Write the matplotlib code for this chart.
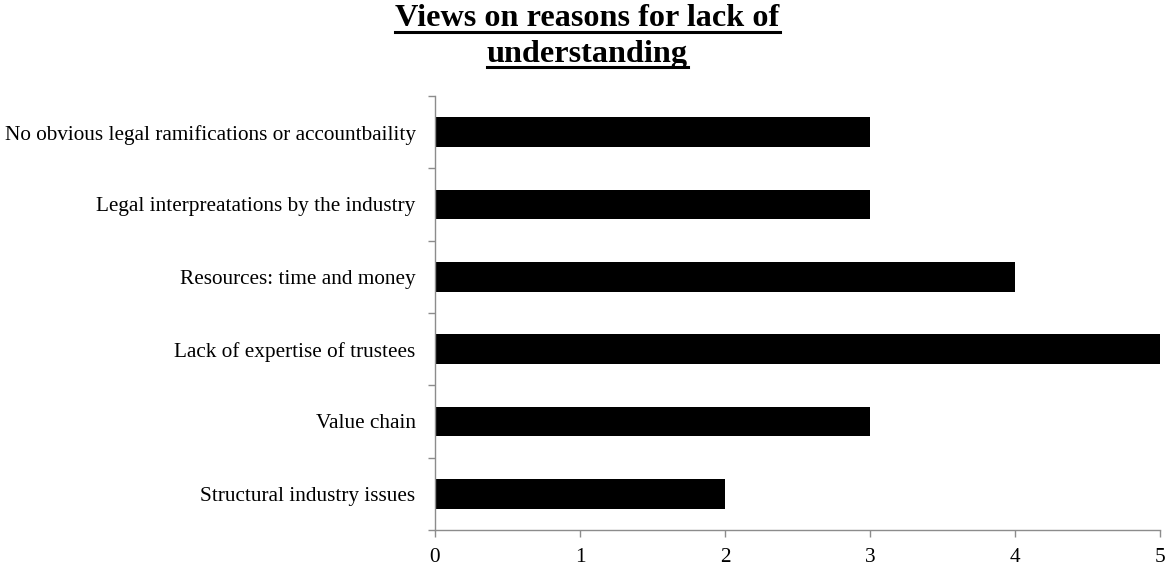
import matplotlib
matplotlib.use("Agg")
import matplotlib.pyplot as plt
from matplotlib.lines import Line2D
import numpy as np

categories = [
    "Structural industry issues",
    "Value chain",
    "Lack of expertise of trustees",
    "Resources: time and money",
    "Legal interpreatations by the industry",
    "No obvious legal ramifications or accountbaility",
]
values = [2, 3, 5, 4, 3, 3]
x_ticks = [0, 1, 2, 3, 4, 5]
title_lines = ["Views on reasons for lack of", "understanding"]

plt.rcParams["font.family"] = ["Liberation Serif", "DejaVu Serif"]

fig = plt.figure(figsize=(11.68, 5.67), dpi=100)
ax = fig.add_axes([0.3724, 0.0653, 0.9932 - 0.3724, 0.8307 - 0.0653])

pos = np.arange(len(categories))
ax.barh(pos, values, height=0.41, color="black")
ax.set_xlim(0, 5)
ax.set_ylim(-0.5, len(categories) - 0.5)

ax.set_xticks(x_ticks)
ax.set_xticklabels([str(t) for t in x_ticks], fontsize=15.3)
ax.set_yticks(pos)
ax.set_yticklabels(categories, fontsize=15.3)
ax.tick_params(axis="y", length=0, pad=14)
ax.set_yticks(np.arange(-0.5, len(categories)), minor=True)
ax.tick_params(axis="y", which="minor", length=5, color="#8c8c8c", width=1)
ax.tick_params(axis="x", length=5, color="#8c8c8c", width=1, pad=8)

for side in ("top", "right"):
    ax.spines[side].set_visible(False)
for side in ("left", "bottom"):
    ax.spines[side].set_color("#8c8c8c")
    ax.spines[side].set_linewidth(1)

# Title, drawn line by line so each line can be underlined
title_y = [0.954, 0.891]
texts = []
for line, y in zip(title_lines, title_y):
    t = fig.text(0.503, y, line, ha="center", va="baseline",
                 fontsize=23.2, fontweight="bold")
    texts.append(t)

fig.canvas.draw()
renderer = fig.canvas.get_renderer()
inv = fig.transFigure.inverted()
for t in texts:
    bb = t.get_window_extent(renderer)
    (x0, _), (x1, _) = inv.transform([(bb.x0, 0), (bb.x1, 0)])
    ty = t.get_position()[1] - 5.5 / fig.bbox.height
    fig.add_artist(Line2D([x0, x1], [ty, ty], transform=fig.transFigure,
                          color="black", linewidth=2.2))

fig.savefig("out.png", dpi=100)
